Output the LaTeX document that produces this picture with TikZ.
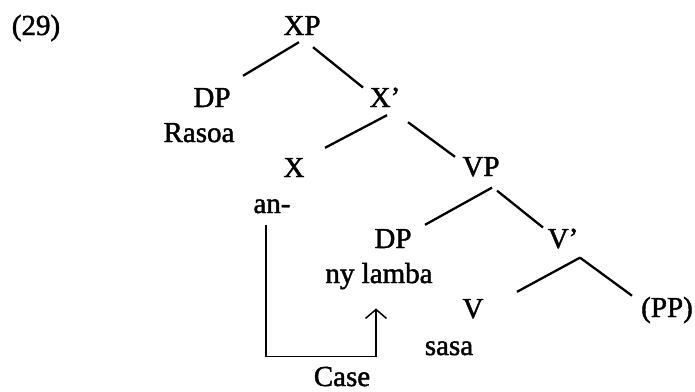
\documentclass[tikz,border=0pt]{standalone}
\usepackage{fontspec}
\newfontfamily\treefont{Liberation Serif}[Ligatures=TeX,FakeBold=1.6]
\usetikzlibrary{arrows.meta}
\usetikzlibrary{positioning}

\tikzset{
  cat/.style={anchor=base, inner sep=0pt, font=\fontsize{29}{32}\treefont},
  branch/.style={line width=2.3pt},
  caseline/.style={line width=1.5pt, -{Straight Barb[length=9pt,width=21pt,line width=1.5pt]}}
}

\begin{document}
\begin{tikzpicture}[x=1pt,y=-1pt]
\useasboundingbox (0,0) rectangle (695,391);

% Text Node
\node[cat] (exno) at (36,35) {(29)};

% categories, placed on their baselines
\node[cat] (xp)   at (302,35)  {XP};
\node[cat] (dpa)  at (212,107) {DP};
\node[cat] (rasoa) at (199,142) {Rasoa};
\node[cat] (xbar) at (385,107) {X'};
\node[cat] (x)    at (294,177) {X};
\node[cat] (an)   at (272,213) {an-};
\node[cat] (vp)   at (481,176) {VP};
\node[cat] (dpb)  at (393,248) {DP};
\node[cat] (ny)   at (379,283) {ny lamba};
\node[cat] (vbar) at (563,248) {V'};
\node[cat] (v)    at (473,318) {V};
\node[cat] (sasa) at (449,355) {sasa};
\node[cat] (pp)   at (667,317) {(PP)};
\node[cat] (case) at (342,386) {Case};

%Straight Lines
\draw[branch] ([shift={(-3,7)}]xp.south)  -- ([shift={(31,-12)}]dpa.north);
\draw[branch] ([shift={(11,12)}]xp.south) -- ([shift={(-22,0)}]xbar.north);
\draw[branch] ([shift={(2,8)}]xbar.south) -- ([shift={(31,-10)}]x.north);
\draw[branch] ([shift={(23,15)}]xbar.south) -- ([shift={(-26,0)}]vp.north);
\draw[branch] ([shift={(11,11)}]vp.south) -- ([shift={(32,-4)}]dpb.north);
\draw[branch] ([shift={(16,14)}]vp.south) -- ([shift={(-20,-1)}]vbar.north);
\draw[branch] ([shift={(17,9)}]vbar.south) -- ([shift={(44,-7)}]v.north);
\draw[branch] ([shift={(17,9)}]vbar.south) -- ([shift={(-35,-1)}]pp.north);

% case assignment from an- up to the object
\draw[caseline] ([shift={(-6,12)}]an.south) |- ([shift={(0,-10)}]case.north) -| ([shift={(-3,19)}]ny.south);

\end{tikzpicture}
\end{document}
